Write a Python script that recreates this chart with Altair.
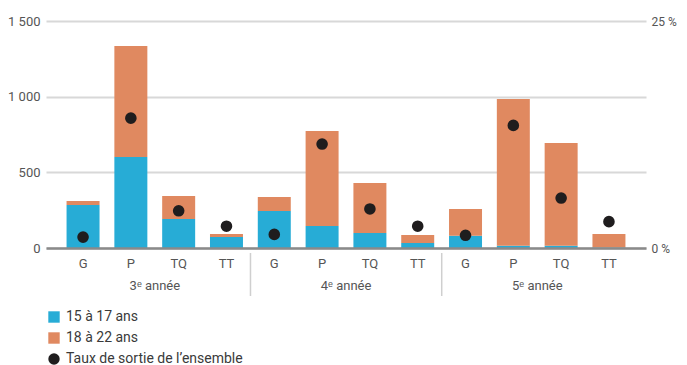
import altair as alt
import pandas as pd

# ---- data ----
groups = ["3ᵉ année"] * 4 + ["4ᵉ année"] * 4 + ["5ᵉ année"] * 4
programs = ["G", "P", "TQ", "TT"] * 3
age_15_17 = [284, 601, 192, 73, 245, 145, 99, 33, 81, 15, 15, 3]
age_18_22 = [26, 734, 152, 20, 92, 628, 331, 53, 177, 970, 679, 90]
taux_sortie = [1.2, 14.3, 4.1, 2.4, 1.5, 11.45, 4.3, 2.4, 1.4, 13.5, 5.5, 2.9]
series = ["15 à 17 ans", "18 à 22 ans", "Taux de sortie de l’ensemble"]
colors = ["#27acd6", "#e08960", "#1f1d1e"]
shapes = ["square", "square", "circle"]
group_names = ["3ᵉ année", "4ᵉ année", "5ᵉ année"]

keys = [f"{g}|{p}" for g, p in zip(groups, programs)]

bars = pd.DataFrame({
    "key": keys * 2,
    "serie": [series[0]] * 12 + [series[1]] * 12,
    "ordre": [0] * 12 + [1] * 12,
    "valeur": age_15_17 + age_18_22,
})
dots = pd.DataFrame({"key": keys, "taux": taux_sortie, "serie": [series[2]] * 12})
glabels = pd.DataFrame({"key": [f"{g}|P" for g in group_names], "label": group_names})
seps = pd.DataFrame({"key": [f"{g}|TT" for g in group_names[:2]]})

FONT = "Roboto, sans-serif"

x = alt.X(
    "key:N",
    sort=keys,
    scale=alt.Scale(paddingInner=0.31, paddingOuter=0.43),
    axis=alt.Axis(
        title=None,
        labelExpr="split(datum.value, '|')[1]",
        labelAngle=0,
        ticks=False,
        domainColor="#8a8a8a",
        domainWidth=2.5,
        labelPadding=9,
        labelFontSize=13,
        labelColor="#555555",
        labelFont=FONT,
        zindex=1,
    ),
)

color = alt.Color(
    "serie:N",
    scale=alt.Scale(domain=series, range=colors),
    legend=alt.Legend(
        title=None,
        orient="none",
        legendX=1,
        legendY=289,
        symbolSize=130,
        symbolStrokeWidth=0,
        labelFontSize=14,
        labelFont=FONT,
        labelColor="#3a3a3a",
        labelLimit=400,
        rowPadding=7,
        labelOffset=5,
    ),
)

bar_layer = alt.Chart(bars).mark_bar().encode(
    x=x,
    y=alt.Y(
        "valeur:Q",
        stack="zero",
        scale=alt.Scale(domain=[0, 1500], nice=False),
        axis=alt.Axis(
            title=None,
            values=[0, 500, 1000, 1500],
            labelExpr="replace(format(datum.value, ','), ',', ' ')",
            domain=False,
            ticks=False,
            grid=True,
            gridColor="#d8d8d8",
            gridWidth=2,
            labelPadding=6,
            labelFontSize=13,
            labelColor="#555555",
            labelFont=FONT,
        ),
    ),
    color=color,
    order=alt.Order("ordre:Q"),
)

dot_layer = alt.Chart(dots).mark_point(size=135, filled=True, opacity=1).encode(
    x=x,
    y=alt.Y(
        "taux:Q",
        scale=alt.Scale(domain=[0, 25], nice=False),
        axis=alt.Axis(
            title=None,
            orient="right",
            values=[0, 25],
            labelExpr="datum.value + ' %'",
            domain=False,
            ticks=False,
            grid=False,
            labelPadding=5,
            labelFontSize=12,
            labelColor="#555555",
            labelFont=FONT,
        ),
    ),
    color=alt.Color("serie:N", scale=alt.Scale(domain=series, range=colors)),
    shape=alt.Shape("serie:N", scale=alt.Scale(domain=series, range=shapes)),
)

group_layer = alt.Chart(glabels).mark_text(
    dx=24, fontSize=13, font=FONT, color="#555555", baseline="middle"
).encode(x=x, y=alt.value(265), text="label:N")

sep_layer = alt.Chart(seps).mark_rule(
    xOffset=24, color="#cfcfcf", strokeWidth=1.5
).encode(x=x, y=alt.value(232), y2=alt.value(275))

chart = (
    alt.layer(bar_layer, dot_layer, group_layer, sep_layer)
    .resolve_scale(y="independent")
    .properties(
        width=600,
        height=227,
        autosize=alt.AutoSizeParams(type="none"),
        padding={"left": 38, "top": 13, "right": 33, "bottom": 117},
    )
    .configure_view(stroke=None)
)

chart.save("out.html", embed_options={"renderer": "svg", "actions": False})
